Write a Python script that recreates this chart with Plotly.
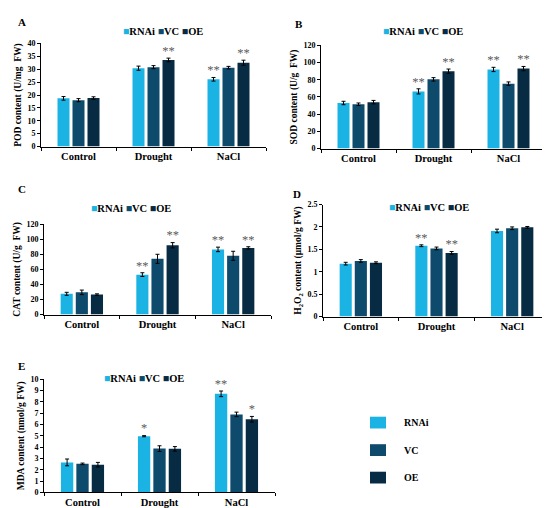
import plotly.graph_objects as go

# data
categories = ["Control", "Drought", "NaCl"]
lines = ["RNAi", "VC", "OE"]
colors = ["#1ab3e3", "#0d4a6b", "#062b42"]

pod = [[18.7, 30.4, 26.1], [18.0, 30.8, 30.6], [18.8, 33.6, 32.5]]
pod_err = [[0.7, 0.8, 0.7], [0.6, 0.6, 0.5], [0.5, 0.7, 1.0]]
pod_sig = [["", "", "**"], ["", "", ""], ["", "**", "**"]]

sod = [[53.0, 66.5, 92.0], [51.5, 80.5, 75.5], [54.0, 90.0, 93.0]]
sod_err = [[2.0, 3.0, 2.5], [1.5, 2.0, 2.0], [2.0, 2.5, 2.5]]
sod_sig = [["", "**", "**"], ["", "", ""], ["", "**", "**"]]

cat = [[27.5, 53.0, 86.5], [29.5, 74.0, 78.0], [26.5, 92.0, 88.5]]
cat_err = [[2.0, 2.5, 3.0], [3.0, 6.0, 6.0], [1.0, 3.5, 1.5]]
cat_sig = [["", "**", "**"], ["", "", ""], ["", "**", "**"]]

h2o2 = [[1.18, 1.58, 1.91], [1.24, 1.52, 1.97], [1.20, 1.42, 1.99]]
h2o2_err = [[0.03, 0.02, 0.04], [0.03, 0.03, 0.03], [0.02, 0.03, 0.02]]
h2o2_sig = [["", "**", ""], ["", "", ""], ["", "**", ""]]

mda = [[2.65, 4.97, 8.72], [2.52, 3.87, 6.90], [2.45, 3.85, 6.47]]
mda_err = [[0.30, 0.05, 0.25], [0.07, 0.25, 0.20], [0.20, 0.20, 0.25]]
mda_sig = [["", "*", "**"], ["", "", ""], ["", "", "*"]]

FONT = "Liberation Serif"
W, H = 550, 508

panels = [
    # label, values, errors, stars, y title, y max, dtick, box (x0, x1, ytop, ybot), legend center, label pos
    ("A", pod, pod_err, pod_sig, "POD content (U/mg  FW)", 40, 5,
     (33, 258, 32, 137), (155, 20), (8, 10)),
    ("B", sod, sod_err, sod_sig, "SOD content (U/g  FW)", 120, 20,
     (313, 538, 34, 139), (415, 20), (285, 12)),
    ("C", cat, cat_err, cat_sig, "CAT content (U/g  FW)", 120, 20,
     (36, 263, 216, 308), (123, 200), (8, 180)),
    ("D", h2o2, h2o2_err, h2o2_sig,
     "H<sub>2</sub>O<sub>2</sub> content (μmol/g FW)", 2.5, 0.5,
     (315, 542, 196, 310), (421, 199), (283, 185)),
    ("E", mda, mda_err, mda_sig, "MDA content (nmol/g FW)", 10, 1,
     (36, 267, 374, 489), (136, 373), (8, 360)),
]

fig = go.Figure()
annotations = []

for i, (lab, vals, errs, sigs, ytitle, ymax, dtick, box, legc, labpos) in enumerate(panels):
    n = "" if i == 0 else str(i + 1)
    xa, ya = "x" + n, "y" + n
    for j, name in enumerate(lines):
        fig.add_trace(go.Bar(
            x=categories, y=vals[j], name=name, marker_color=colors[j],
            marker_line_width=0, offsetgroup=name,
            error_y=dict(type="data", array=errs[j], color="black",
                         thickness=1, width=2),
            xaxis=xa, yaxis=ya, showlegend=False))
    for j, name in enumerate(lines):
        # significance stars, only where there is one
        keep = [k for k, s in enumerate(sigs[j]) if s]
        if not keep:
            continue
        fig.add_trace(go.Scatter(
            x=[categories[k] for k in keep],
            y=[vals[j][k] + errs[j][k] for k in keep],
            text=[sigs[j][k] for k in keep],
            mode="text", textposition="top center",
            textfont=dict(family=FONT, size=12.5, color="#5a5a5a"),
            offsetgroup=name, xaxis=xa, yaxis=ya, showlegend=False,
            hoverinfo="skip"))
    x0, x1, yt, yb = box
    fig.update_layout({
        "xaxis" + n: dict(domain=[x0 / W, x1 / W], anchor=ya,
                          categoryorder="array", categoryarray=categories,
                          showline=True, linecolor="black", linewidth=1,
                          ticks="outside", tickson="boundaries", ticklen=3,
                          tickcolor="black",
                          tickfont=dict(family=FONT, size=10.5, color="black",
                                        weight="bold")),
        "yaxis" + n: dict(domain=[1 - yb / H, 1 - yt / H], anchor=xa,
                          range=[0, ymax], dtick=dtick, showgrid=False,
                          zeroline=False, showline=True, linecolor="black",
                          linewidth=1, ticks="outside", ticklen=3,
                          tickcolor="black",
                          tickfont=dict(family=FONT, size=8, color="black",
                                        weight="bold"),
                          title=dict(text=ytitle, standoff=4,
                                     font=dict(family=FONT, size=9.5,
                                               color="black", weight="bold"))),
    })
    leg = " ".join(
        f"<span style='color:{c}'>■</span>{nm}" for c, nm in zip(colors, lines))
    annotations.append(dict(
        x=legc[0] / W, y=1 - legc[1] / H, xref="paper", yref="paper",
        text=leg, showarrow=False, xanchor="center", yanchor="middle",
        font=dict(family=FONT, size=10.5, color="black", weight="bold")))
    annotations.append(dict(
        x=labpos[0] / W, y=1 - labpos[1] / H, xref="paper", yref="paper",
        text=lab, showarrow=False, xanchor="left", yanchor="middle",
        font=dict(family=FONT, size=11, color="black", weight="bold")))

# large legend on the right of panel E
shapes = []
for j, (name, c) in enumerate(zip(lines, colors)):
    yc = 418 + j * 28
    shapes.append(dict(type="rect", xref="paper", yref="paper",
                       x0=362 / W, x1=378 / W,
                       y0=1 - (yc + 6) / H, y1=1 - (yc - 6) / H,
                       fillcolor=c, line_width=0))
    annotations.append(dict(
        x=394 / W, y=1 - yc / H, xref="paper", yref="paper", text=name,
        showarrow=False, xanchor="left", yanchor="middle",
        font=dict(family=FONT, size=10, color="black", weight="bold")))

fig.update_layout(
    width=W, height=H, margin=dict(l=0, r=0, t=0, b=0),
    barmode="group", scattermode="group", bargap=0.4, bargroupgap=0.2,
    plot_bgcolor="white", paper_bgcolor="white",
    annotations=annotations, shapes=shapes, showlegend=False)

fig.write_html("out.html")
